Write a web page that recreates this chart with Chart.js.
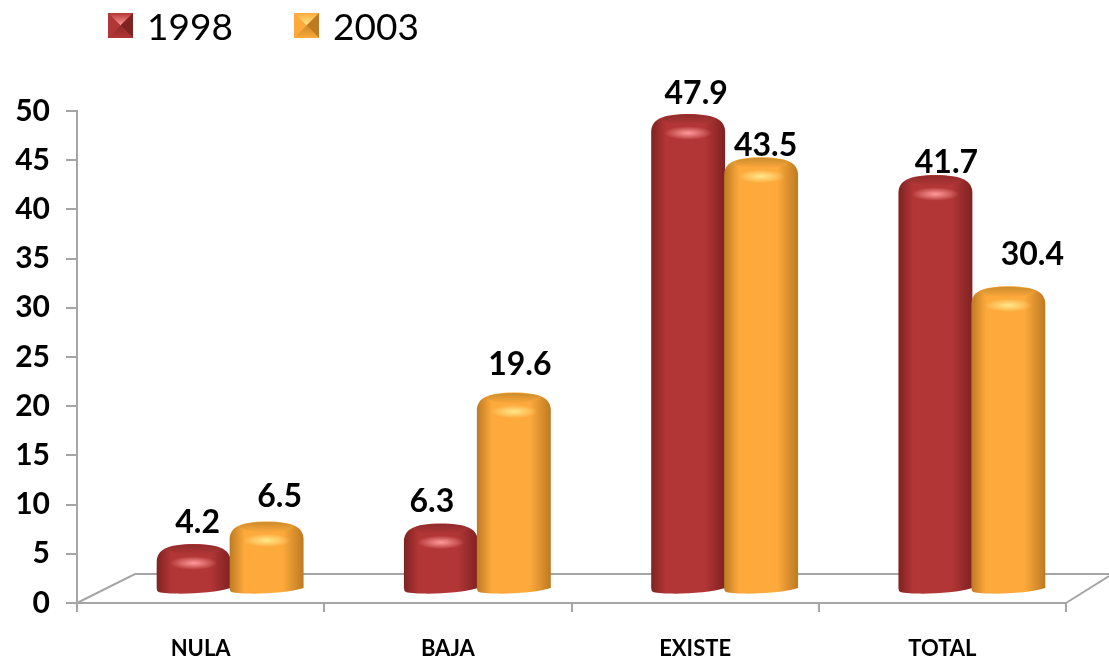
<!DOCTYPE html>
<html>
<head>
<meta charset="utf-8">
<title>1998 / 2003</title>
<script src="https://cdn.jsdelivr.net/npm/chart.js@4/dist/chart.umd.min.js"></script>
<style>
  html, body { margin: 0; padding: 0; background: #fff; }
  #wrap { width: 1109px; height: 662px; }
</style>
</head>
<body>
<div id="wrap"><canvas id="chart"></canvas></div>
<script>
// Datos
var categories = ["NULA", "BAJA", "EXISTE", "TOTAL"];
var seriesNames = ["1998", "2003"];
var values1998 = [4.2, 6.3, 47.9, 41.7];
var values2003 = [6.5, 19.6, 43.5, 30.4];

// Colores: borde, centro, cara superior, brillo
var palette = [
  { edge: "#7f2222", mid: "#b33636", top: "#8e2b2b", glow: "#ff9a9a" },
  { edge: "#bd7a22", mid: "#fda93b", top: "#c98a2c", glow: "#ffe88a" },
];

var FONT = 'Lato, "Noto Sans", sans-serif';
var GREY = "#a6a6a6";

// Desplazamiento de la perspectiva respecto a la escala
var depthX = 29.5;
var topLift = 17.6;
var baseLift = 9;

// Ajuste manual de cada etiqueta [dx, dy] respecto a la tapa del cilindro
var labelNudge = [
  [[4, -22], [-9, -23], [8, -21], [11, -13]],
  [[13, -26], [6, -29], [4.5, -13], [24, -33]],
];

function drawFloor(chart) {
  var ctx = chart.ctx;
  var a = chart.chartArea;
  var backY = a.bottom - 29;
  ctx.save();
  ctx.strokeStyle = GREY;
  ctx.lineWidth = 2;
  ctx.beginPath();
  ctx.moveTo(a.left, a.bottom);
  ctx.lineTo(a.left + 58, backY);
  ctx.lineTo(chart.width, backY);
  ctx.moveTo(a.right, a.bottom);
  ctx.lineTo(chart.width, a.bottom - 27);
  ctx.stroke();
  ctx.restore();
}

function drawCylinder(ctx, el, c) {
  var w = el.width + 1;
  var cx = el.x + depthX;
  var l = cx - w / 2;
  var r = cx + w / 2;
  var top = el.y - topLift;
  var bottom = el.base - baseLift;
  var corner = bottom - 5;

  var grad = ctx.createLinearGradient(l, 0, r, 0);
  grad.addColorStop(0, c.edge);
  grad.addColorStop(0.2, c.mid);
  grad.addColorStop(0.72, c.mid);
  grad.addColorStop(1, c.edge);

  // cuerpo con hombros redondeados
  ctx.beginPath();
  ctx.moveTo(l, top + 18);
  ctx.bezierCurveTo(l, top + 6, l + 10, top, cx, top);
  ctx.bezierCurveTo(r - 10, top, r, top + 6, r, top + 18);
  ctx.lineTo(r, corner);
  ctx.bezierCurveTo(r - 18, bottom + 1, l + 14, bottom + 2, l + 2, bottom - 1);
  ctx.quadraticCurveTo(l, bottom - 2, l, corner);
  ctx.closePath();
  ctx.fillStyle = grad;
  ctx.fill();

  // cara superior
  ctx.save();
  ctx.beginPath();
  ctx.ellipse(cx, top + 5.5, w / 2 - 10, 5, 0, 0, Math.PI * 2);
  ctx.clip();
  var face = ctx.createLinearGradient(0, top, 0, top + 11);
  face.addColorStop(0, c.top);
  face.addColorStop(1, c.mid);
  ctx.fillStyle = face;
  ctx.fillRect(l, top, w, 11);
  ctx.restore();

  // brillo
  ctx.save();
  ctx.translate(cx, top + 19);
  ctx.scale(1, 0.28);
  var glow = ctx.createRadialGradient(0, 0, 0, 0, 0, 24);
  glow.addColorStop(0, c.glow);
  glow.addColorStop(0.35, c.glow + "aa");
  glow.addColorStop(1, c.glow + "00");
  ctx.fillStyle = glow;
  ctx.beginPath();
  ctx.arc(0, 0, 24, 0, Math.PI * 2);
  ctx.fill();
  ctx.restore();
}

function drawLegend(chart) {
  var ctx = chart.ctx;
  var spots = [108, 294];
  var size = 25;
  var y = 13;
  ctx.save();
  chart.data.datasets.forEach(function (ds, i) {
    var x = spots[i];
    var c = palette[i];
    var cx = x + size / 2;
    var cy = y + size / 2;
    var topFace = ctx.createLinearGradient(0, y, 0, cy);
    topFace.addColorStop(0, c.mid);
    topFace.addColorStop(1, c.glow);
    var bottomFace = ctx.createLinearGradient(0, cy, 0, y + size);
    bottomFace.addColorStop(0, c.top);
    bottomFace.addColorStop(1, c.mid);
    var faces = [
      [x, y, x + size, y, topFace],
      [x + size, y, x + size, y + size, c.edge],
      [x + size, y + size, x, y + size, bottomFace],
      [x, y + size, x, y, c.mid],
    ];
    ctx.fillStyle = c.mid;
    ctx.fillRect(x, y, size, size);
    faces.forEach(function (f) {
      ctx.beginPath();
      ctx.moveTo(f[0], f[1]);
      ctx.lineTo(f[2], f[3]);
      ctx.lineTo(cx, cy);
      ctx.closePath();
      ctx.fillStyle = f[4];
      ctx.fill();
    });
    ctx.fillStyle = "#000";
    ctx.font = "37px " + FONT;
    ctx.textAlign = "left";
    ctx.textBaseline = "middle";
    ctx.fillText(ds.label, x + size + 14, 28);
  });
  ctx.restore();
}

var cylinders = {
  id: "cylinders",
  // las barras nativas se sustituyen por cilindros
  beforeDatasetDraw: function () {
    return false;
  },
  afterDatasetsDraw: function (chart) {
    var ctx = chart.ctx;
    drawFloor(chart);
    ctx.save();
    chart.data.datasets.forEach(function (ds, i) {
      chart.getDatasetMeta(i).data.forEach(function (el) {
        drawCylinder(ctx, el, palette[i]);
      });
    });
    ctx.fillStyle = "#000";
    ctx.font = "bold 32px " + FONT;
    ctx.textAlign = "center";
    ctx.textBaseline = "middle";
    chart.data.datasets.forEach(function (ds, i) {
      chart.getDatasetMeta(i).data.forEach(function (el, j) {
        var n = labelNudge[i][j];
        ctx.fillText(
          ds.data[j].toFixed(1),
          el.x + depthX + n[0],
          el.y - topLift + n[1] + 1
        );
      });
    });
    ctx.restore();
    drawLegend(chart);
  },
};

new Chart(document.getElementById("chart"), {
  type: "bar",
  data: {
    labels: categories,
    datasets: [
      { label: seriesNames[0], data: values1998, backgroundColor: palette[0].mid },
      { label: seriesNames[1], data: values2003, backgroundColor: palette[1].mid },
    ],
  },
  options: {
    responsive: true,
    maintainAspectRatio: false,
    animation: false,
    layout: { padding: { top: 111, right: 43, left: 0, bottom: 0 } },
    datasets: { bar: { barPercentage: 1, categoryPercentage: 0.59 } },
    scales: {
      x: {
        afterFit: function (scale) {
          scale.height = 59;
        },
        grid: {
          drawOnChartArea: false,
          color: GREY,
          lineWidth: 2,
          tickLength: 9,
        },
        border: { color: GREY, width: 2 },
        ticks: {
          color: "#000",
          padding: 24,
          maxRotation: 0,
          font: { family: FONT, size: 22, weight: "bold" },
        },
      },
      y: {
        min: 0,
        max: 50,
        afterFit: function (scale) {
          scale.width = 77;
        },
        grid: {
          drawOnChartArea: false,
          color: GREY,
          lineWidth: 2,
          tickLength: 11,
        },
        border: { color: GREY, width: 2 },
        ticks: {
          stepSize: 5,
          color: "#000",
          padding: 16,
          font: { family: FONT, size: 30, weight: "bold" },
        },
      },
    },
    plugins: {
      legend: { display: false },
      tooltip: { enabled: false },
    },
  },
  plugins: [cylinders],
});
</script>
</body>
</html>
